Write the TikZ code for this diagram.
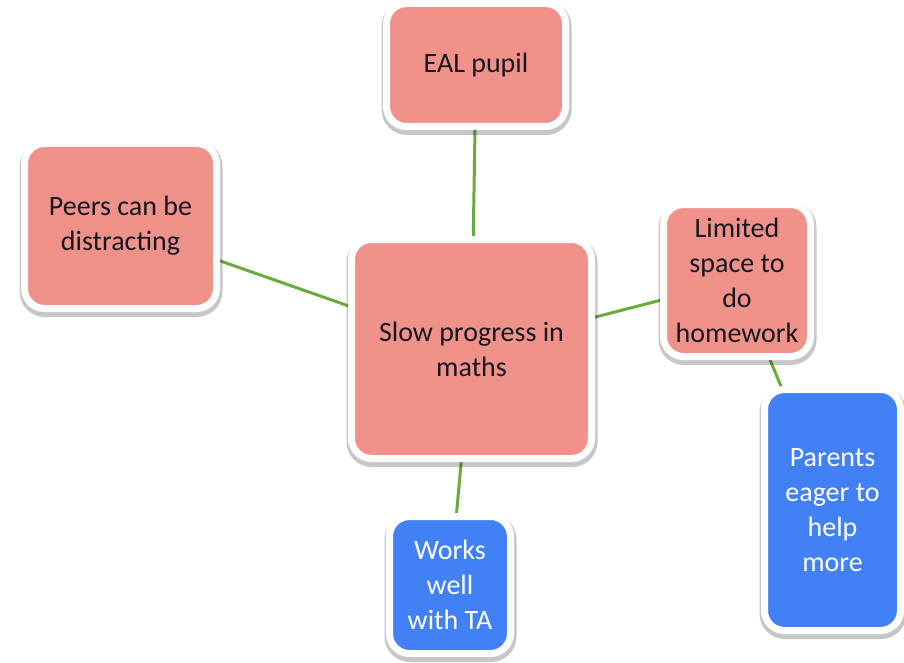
\documentclass[tikz,border=0pt]{standalone}
\usepackage{fontspec}
\setmainfont{Carlito}
\usetikzlibrary{backgrounds}

\definecolor{boxpink}{HTML}{F0928A}
\definecolor{boxblue}{HTML}{4280F6}
\definecolor{linkgreen}{HTML}{6AAB3C}
\definecolor{textdark}{HTML}{161620}

\tikzset{
    box/.style={rectangle, rounded corners=20pt, draw=white, line width=7pt,
        align=center, inner sep=0pt, font=\fontsize{28}{35}\selectfont,
        preaction={draw=black, draw opacity=0.22, line width=11pt,
            transform canvas={xshift=0.5pt, yshift=-3pt}}},
    pinkbox/.style={box, fill=boxpink, text=textdark},
    bluebox/.style={box, fill=boxblue, text=white},
    link/.style={draw=linkgreen, line width=3pt}
}

\begin{document}
\begin{tikzpicture}[x=1pt, y=-1pt]
    \useasboundingbox (0, 0) rectangle (904, 663);

    \node[pinkbox, minimum width=179pt, minimum height=123pt] (eal) at (476, 65) {EAL pupil};
    \node[pinkbox, minimum width=192pt, minimum height=165pt] (peers) at (120.5, 226) {Peers can be\\distracting};
    \node[pinkbox, minimum width=240pt, minimum height=219pt] (slow) at (471.5, 349) {Slow progress in\\maths};
    \node[pinkbox, minimum width=147pt, minimum height=152pt] (space) at (737, 280.5) {Limited\\space to\\do\\homework};
    \node[bluebox, minimum width=136pt, minimum height=241pt] (parents) at (832.5, 510) {Parents\\eager to\\help\\more};
    \node[bluebox, minimum width=121pt, minimum height=137pt] (ta) at (450, 585) {Works\\well\\with TA};

    % connectors behind the boxes
    \begin{scope}[on background layer]
        \draw[link] (eal.center) -- (slow.center);
        \draw[link] (peers.center) -- (slow.center);
        \draw[link] (slow.center) -- (space.center);
        \draw[link] (space.center) -- (parents.center);
        \draw[link] (slow.center) -- (ta.center);
    \end{scope}

\end{tikzpicture}
\end{document}
